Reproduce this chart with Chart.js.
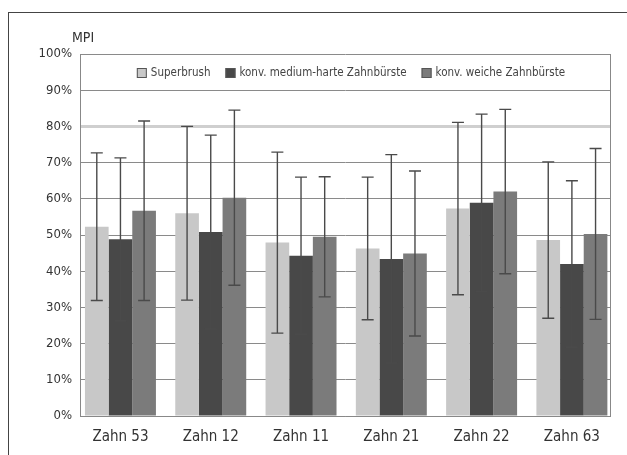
<!DOCTYPE html>
<html><head><meta charset="utf-8">
<script src="https://cdn.jsdelivr.net/npm/chart.js@4.4.1/dist/chart.umd.min.js"></script>
<style>
html,body{margin:0;padding:0;background:#fff;}
#wrap{position:relative;width:627px;height:455px;overflow:hidden;}
#frame{position:absolute;left:8px;top:12px;width:700px;height:500px;border-left:1.5px solid #444;border-top:1.5px solid #444;}
canvas{position:absolute;left:0;top:0;}
</style></head>
<body><div id="wrap"><div id="frame"></div><canvas id="c" width="627" height="455"></canvas></div>
<script>
const categories = ["Zahn 53","Zahn 12","Zahn 11","Zahn 21","Zahn 22","Zahn 63"];
const seriesNames = ["Superbrush","konv. medium-harte Zahnbürste","konv. weiche Zahnbürste"];
const superbrush = [52.3, 56.0, 47.9, 46.3, 57.3, 48.6];
const superbrushErr = [20.4, 24.0, 25.0, 19.7, 23.8, 21.6];
const mittel = [48.8, 50.8, 44.3, 43.4, 58.9, 42.0];
const mittelErr = [22.5, 26.8, 21.7, 28.8, 24.5, 23.0];
const weich = [56.7, 60.3, 49.5, 44.9, 62.0, 50.3];
const weichErr = [24.8, 24.2, 16.6, 22.8, 22.7, 23.6];
const yTicks = [0,10,20,30,40,50,60,70,80,90,100];

const FONT = "'Liberation Sans Narrow','DejaVu Sans Condensed','Liberation Sans',sans-serif";

const errPlugin = {
  id:'err',
  afterDatasetsDraw(chart){
    const ctx = chart.ctx, ys = chart.scales.y;
    ctx.save();
    ctx.strokeStyle = '#4a4a4a';
    ctx.lineWidth = 1.4;
    chart.data.datasets.forEach((ds,i)=>{
      const meta = chart.getDatasetMeta(i);
      meta.data.forEach((bar,j)=>{
        const v = ds.data[j], e = ds.err[j];
        const x = bar.x, t = ys.getPixelForValue(v+e), b = ys.getPixelForValue(v-e);
        ctx.beginPath();
        ctx.moveTo(x,t); ctx.lineTo(x,b);
        ctx.moveTo(x-6,t); ctx.lineTo(x+6,t);
        ctx.moveTo(x-6,b); ctx.lineTo(x+6,b);
        ctx.stroke();
      });
    });
    ctx.restore();
  },
  afterDraw(chart){
    const ctx = chart.ctx, a = chart.chartArea;
    ctx.save();
    ctx.strokeStyle = '#888'; ctx.lineWidth = 1;
    ctx.beginPath();
    ctx.moveTo(a.right+0.5, a.top); ctx.lineTo(a.right+0.5, a.bottom);
    ctx.stroke();
    ctx.fillStyle = '#333';
    ctx.font = "14px " + FONT;
    ctx.textAlign = 'left'; ctx.textBaseline = 'middle';
    ctx.fillText('MPI', 72, 38);
    // legend inside plot area
    ctx.font = "11.5px " + FONT;
    const box = 10, gapT = 4, gapI = 15;
    const ds = chart.data.datasets;
    const widths = ds.map(d => box + gapT + ctx.measureText(d.label).width);
    const total = widths.reduce((s,w)=>s+w,0) + gapI*(ds.length-1);
    let x = 351 - total/2;
    const yc = a.top + 19;
    ds.forEach((d,i)=>{
      ctx.fillStyle = d.backgroundColor;
      ctx.fillRect(x, yc-box/2, box, box);
      ctx.strokeStyle = '#555'; ctx.lineWidth = 1;
      ctx.strokeRect(x+0.5, yc-box/2+0.5, box-1, box-1);
      ctx.fillStyle = '#444';
      ctx.fillText(d.label, x+box+gapT, yc+0.5);
      x += widths[i] + gapI;
    });
    ctx.restore();
  }
};

new Chart(document.getElementById('c'), {
  type:'bar',
  data:{
    labels: categories,
    datasets:[
      {label:seriesNames[0], data:superbrush, err:superbrushErr, backgroundColor:'#c8c8c8', borderWidth:0},
      {label:seriesNames[1], data:mittel, err:mittelErr, backgroundColor:'#484848', borderWidth:0},
      {label:seriesNames[2], data:weich, err:weichErr, backgroundColor:'#7b7b7b', borderWidth:0}
    ]
  },
  options:{
    responsive:false, animation:false,
    layout:{padding:{left:0,right:17,top:54,bottom:0}},
    datasets:{bar:{categoryPercentage:0.786, barPercentage:1.0}},
    plugins:{
      legend:{display:false},
      tooltip:{enabled:false}
    },
    scales:{
      x:{
        grid:{display:false, drawTicks:false},
        border:{display:true, color:'#888', width:1},
        ticks:{color:'#333', padding:12, font:{size:15, family:FONT}},
        afterFit(s){ s.height = 39; },
        afterBuildTicks(s){ s._startValue = -0.448; s._valueRange = 5.87; }
      },
      y:{
        min:0, max:100,
        afterBuildTicks(s){ s.ticks = yTicks.map(v=>({value:v})); },
        grid:{
          color:(c)=> c.tick && c.tick.value===80 ? '#cfcfcf' : '#8a8a8a',
          lineWidth:(c)=> c.tick && c.tick.value===80 ? 3 : 1,
          drawTicks:false
        },
        border:{display:true, color:'#888', width:1},
        ticks:{color:'#333', padding:8, font:{size:13, family:FONT}, callback:(v)=>v+'%'},
        afterFit(s){ s.width = 80; }
      }
    }
  },
  plugins:[errPlugin]
});
</script></body></html>
